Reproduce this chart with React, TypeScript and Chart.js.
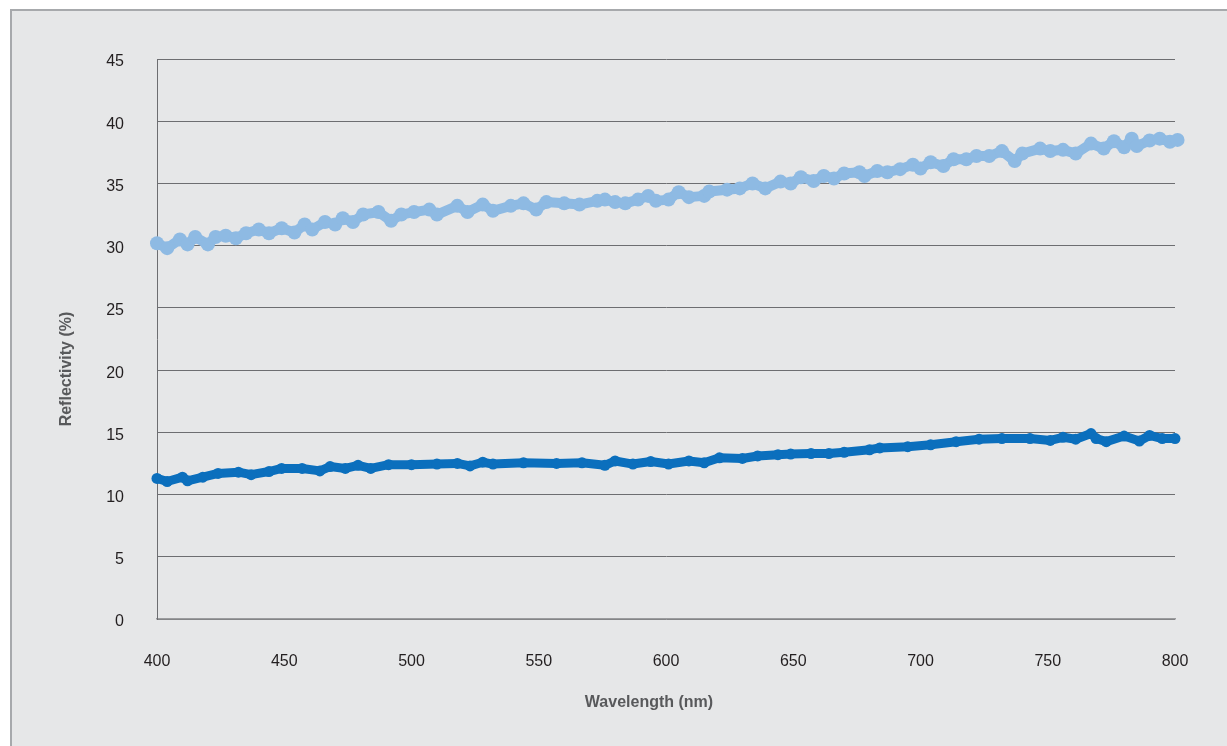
import React, { useEffect, useRef } from "react";
import { Chart, registerables } from "chart.js";

Chart.register(...registerables);

// Upper series (light blue)
const topWavelengths = [
  400, 404, 409, 412, 415, 420, 423, 427, 431, 435, 440, 444, 449, 454, 458, 461, 466, 470, 473, 477,
  481, 487, 492, 496, 501, 507, 510, 518, 522, 528, 532, 539, 544, 549, 553, 560, 566, 573, 576, 580,
  584, 589, 593, 596, 601, 605, 609, 615, 617, 624, 629, 634, 639, 645, 649, 653, 658, 662, 666, 670,
  676, 678, 683, 687, 692, 697, 700, 704, 709, 713, 718, 722, 727, 732, 737, 740, 747, 751, 756, 761,
  767, 772, 776, 780, 783, 785, 790, 794, 798, 801,
];
const topReflectivity = [
  30.2, 29.8, 30.5, 30.1, 30.7, 30.1, 30.7, 30.8, 30.6, 31.0, 31.3, 31.0, 31.4, 31.05, 31.7, 31.3, 31.9, 31.7, 32.2, 31.9,
  32.5, 32.7, 32.0, 32.5, 32.7, 32.9, 32.5, 33.2, 32.7, 33.3, 32.8, 33.2, 33.4, 32.9, 33.5, 33.4, 33.3, 33.6, 33.7, 33.5,
  33.4, 33.7, 34.0, 33.6, 33.7, 34.3, 33.9, 34.0, 34.35, 34.5, 34.6, 35.0, 34.6, 35.15, 35.0, 35.5, 35.2, 35.6, 35.4, 35.8,
  35.9, 35.6, 36.0, 35.9, 36.15, 36.5, 36.2, 36.7, 36.4, 36.95, 36.95, 37.2, 37.2, 37.6, 36.8, 37.4, 37.8, 37.6, 37.7, 37.4,
  38.2, 37.8, 38.4, 37.9, 38.6, 38.0, 38.45, 38.6, 38.35, 38.5,
];

// Lower series (dark blue)
const bottomWavelengths = [
  400, 404, 410, 412, 418, 424, 432, 437, 444, 449, 457, 464, 468, 474, 479, 484, 491, 500, 510, 518,
  523, 528, 532, 544, 557, 567, 576, 580, 587, 594, 601, 609, 615, 621, 630, 636, 644, 649, 657, 664,
  670, 680, 684, 695, 704, 714, 723, 732, 743, 751, 756, 761, 767, 769, 773, 780, 786, 790, 795, 800,
];
const bottomReflectivity = [
  11.3, 11.05, 11.4, 11.1, 11.4, 11.7, 11.8, 11.6, 11.85, 12.1, 12.1, 11.9, 12.25, 12.1, 12.35, 12.1, 12.4, 12.4, 12.45, 12.5,
  12.3, 12.6, 12.45, 12.55, 12.5, 12.55, 12.35, 12.7, 12.45, 12.65, 12.45, 12.7, 12.55, 12.95, 12.9, 13.1, 13.2, 13.25, 13.3, 13.3,
  13.4, 13.6, 13.75, 13.85, 14.0, 14.25, 14.45, 14.5, 14.5, 14.35, 14.6, 14.45, 14.9, 14.5, 14.25, 14.7, 14.3, 14.75, 14.5, 14.5,
];

const xTickValues = [400, 450, 500, 550, 600, 650, 700, 750, 800];
const yTickValues = [0, 5, 10, 15, 20, 25, 30, 35, 40, 45];
const xTitle = "Wavelength (nm)";
const yTitle = "Reflectivity (%)";

const FONT = '"Liberation Sans", Arial, sans-serif';

const axisTitles = {
  id: "axisTitles",
  afterDraw(chart: any) {
    const { ctx, chartArea } = chart;
    ctx.save();
    ctx.fillStyle = "#58595b";
    ctx.font = `bold 16px ${FONT}`;
    ctx.textAlign = "center";
    ctx.textBaseline = "middle";
    const cx = (chartArea.left + chartArea.right) / 2 - 17;
    ctx.fillText(xTitle, cx, chartArea.bottom + 84);
    ctx.translate(chartArea.left - 90, (chartArea.top + chartArea.bottom) / 2 + 30);
    ctx.rotate(-Math.PI / 2);
    ctx.fillText(yTitle, 0, 0);
    ctx.restore();
  },
};

export default function App() {
  const canvasRef = useRef<HTMLCanvasElement | null>(null);

  useEffect(() => {
    if (!canvasRef.current) return;
    const topData = topWavelengths.map((x, i) => ({ x, y: topReflectivity[i] }));
    const bottomData = bottomWavelengths.map((x, i) => ({ x, y: bottomReflectivity[i] }));

    const chart = new Chart(canvasRef.current, {
      type: "line",
      data: {
        datasets: [
          {
            label: "Upper",
            data: topData,
            borderColor: "#8ebae3",
            backgroundColor: "#8ebae3",
            pointBackgroundColor: "#8ebae3",
            borderWidth: 10,
            borderJoinStyle: "round",
            borderCapStyle: "round",
            pointRadius: 7,
            pointBorderWidth: 0,
            tension: 0,
            clip: false,
          },
          {
            label: "Lower",
            data: bottomData,
            borderColor: "#0b6fbd",
            backgroundColor: "#0b6fbd",
            pointBackgroundColor: "#0b6fbd",
            borderWidth: 9,
            borderJoinStyle: "round",
            borderCapStyle: "round",
            pointRadius: 5.5,
            pointBorderWidth: 0,
            tension: 0,
            clip: false,
          },
        ],
      },
      options: {
        animation: false,
        responsive: false,
        maintainAspectRatio: false,
        layout: { padding: { left: 0, top: 48, right: 52, bottom: 0 } },
        plugins: {
          legend: { display: false },
          tooltip: { enabled: false },
        },
        scales: {
          x: {
            type: "linear",
            min: 400,
            max: 800,
            afterBuildTicks: (scale: any) => {
              scale.ticks = xTickValues.map((v) => ({ value: v }));
            },
            afterFit: (scale: any) => {
              scale.height = 127;
            },
            grid: { display: false, drawTicks: false },
            border: { display: true, color: "#9b9c9e", width: 1.5 },
            ticks: {
              padding: 33,
              color: "#231f20",
              font: { family: FONT, size: 16 },
              maxRotation: 0,
            },
          },
          y: {
            type: "linear",
            min: 0,
            max: 45,
            afterBuildTicks: (scale: any) => {
              scale.ticks = yTickValues.map((v) => ({ value: v }));
            },
            afterFit: (scale: any) => {
              scale.width = 145;
            },
            grid: { display: true, color: "#6d6e71", lineWidth: 1, drawTicks: false },
            border: { display: true, color: "#6d6e71", width: 1 },
            ticks: {
              padding: 33,
              labelOffset: 3,
              color: "#231f20",
              font: { family: FONT, size: 16 },
            },
          },
        },
      },
      plugins: [axisTitles],
    });
    return () => chart.destroy();
  }, []);

  return (
    <div
      style={{
        position: "fixed",
        left: 10,
        top: 9,
        width: 1240,
        height: 760,
        border: "2px solid #a7a9ac",
        background: "#e6e7e8",
        boxSizing: "content-box",
      }}
    >
      <canvas
        ref={canvasRef}
        width={1215}
        height={735}
        style={{ position: "absolute", left: 0, top: 0, width: 1215, height: 735 }}
      />
    </div>
  );
}
